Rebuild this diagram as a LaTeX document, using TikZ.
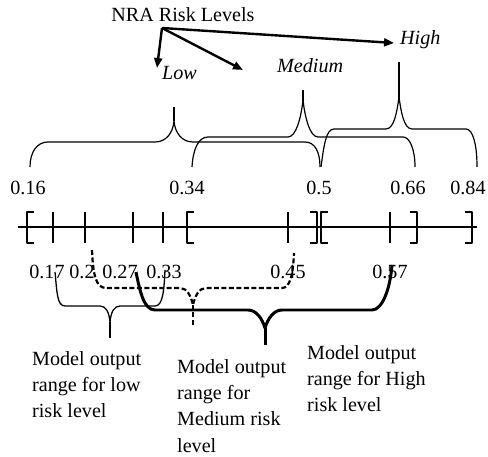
\documentclass[tikz,border=0pt]{standalone}
\usepackage{fontspec}
\setmainfont{Liberation Serif}
\usetikzlibrary{arrows.meta}
\newcommand\myfs{\fontsize{20.2}{26.5}\selectfont}
\tikzset{
  lbl/.style={font=\myfs, inner sep=0pt, anchor=base},
  lvl/.style={font=\myfs\itshape, inner sep=0pt, anchor=base west},
  blk/.style={font=\myfs, inner sep=0pt, anchor=north west, align=left},
  arr/.style={line width=2.4pt, -{Triangle[length=10pt,width=8pt]}},
  topbr/.style={line width=1.2pt},
  tickm/.style={line width=1.2pt},
  lowbr/.style={line width=1.3pt},
  medbr/.style={line width=2.2pt, dash pattern=on 5pt off 2.5pt},
  highbr/.style={line width=3pt},
}
\begin{document}
\begin{tikzpicture}[x=1bp,y=-1bp, line join=round]
\useasboundingbox (0,0) rectangle (488,457);

% title and levels
\node[lbl] (nra) at (183,22) {NRA Risk Levels};
\node[lvl] (low) at (162,80) {Low};
\node[lvl] (medium) at (277,73) {Medium};
\node[lvl] (high) at (400,45) {High};
\coordinate (src) at (162,28);
\coordinate (lowtip) at (157,68);
\coordinate (medtip) at (243,70);
\coordinate (hightip) at (394,43);
\draw[arr] (src) -- (lowtip);
\draw[arr] (src) -- (medtip);
\draw[arr] (src) -- (hightip);

% upper braces (risk levels)
\draw[topbr] (30,167) .. controls (30,152) and (37,142) .. (48,142) -- (155,142)
  .. controls (166,142) and (173,133) .. (174,121)
  .. controls (175,133) and (182,142) .. (193,142) -- (305,142)
  .. controls (315,142) and (320,152) .. (320,167);
\draw[topbr] (174,121) -- (174,107);
\draw[topbr] (192,167) .. controls (193,150) and (198,137) .. (208,137) -- (288,137)
  .. controls (296,137) and (301,118) .. (303,100)
  .. controls (305,118) and (310,137) .. (318,137) -- (403,137)
  .. controls (410,137) and (415,150) .. (415,167);
\draw[line width=2pt] (303,101) -- (303,90);
\draw[topbr] (321,167) .. controls (324,145) and (326,129) .. (334,129) -- (386,129)
  .. controls (394,129) and (397,112) .. (399,97)
  .. controls (401,112) and (404,129) .. (412,129) -- (466,129)
  .. controls (473,129) and (477,145) .. (477,167);
\draw[line width=2.6pt] (399,98) -- (399,62);

% upper numbers
\node[lbl] (n016) at (28,195) {0.16};
\node[lbl] (n034) at (187,195) {0.34};
\node[lbl] (n05) at (319,195) {0.5};
\node[lbl] (n066) at (408,195) {0.66};
\node[lbl] (n084) at (468,195) {0.84};

% axis
\draw[line width=1.6pt] (18,227) -- (477,227);
\foreach \x in {53,85,133,163,288,390} \draw[tickm] (\x,212) -- (\x,243);
\foreach \x in {27,187,321} \draw[tickm] (\x+7,212) -- (\x,212) -- (\x,243) -- (\x+7,243);
\foreach \x in {317,417,472} \draw[tickm] (\x-7,212) -- (\x,212) -- (\x,243) -- (\x-7,243);

% lower numbers
\node[lbl] (n017) at (47,278) {0.17};
\node[lbl] (n02) at (82,278) {0.2};
\node[lbl] (n027) at (120,278) {0.27};
\node[lbl] (n033) at (164,278) {0.33};
\node[lbl] (n045) at (288,278) {0.45};
\node[lbl] (n057) at (390,278) {0.57};

% lower braces (model output)
\draw[lowbr] (55,272) .. controls (57,292) and (57,306) .. (65,306) -- (100,306)
  .. controls (106,306) and (109,312) .. (110,322)
  .. controls (111,312) and (114,306) .. (120,306) -- (155,306)
  .. controls (163,306) and (164,290) .. (165,270);
\draw[lowbr] (110,322) -- (110,338);
\draw[medbr] (92,250) .. controls (93,275) and (96,288) .. (106,288) -- (180,288)
  .. controls (187,288) and (191,296) .. (193,305)
  .. controls (195,296) and (199,288) .. (206,288) -- (282,288)
  .. controls (290,288) and (293,275) .. (294,253);
\draw[medbr] (193,305) -- (193,325);
\draw[highbr] (136,272) .. controls (140,292) and (144,310) .. (155,310) -- (248,310)
  .. controls (256,310) and (262,318) .. (265,328)
  .. controls (268,318) and (274,310) .. (282,310) -- (372,310)
  .. controls (382,310) and (390,290) .. (392,265);
\draw[highbr] (265,328) -- (265,345);

% text blocks
\node[blk] (tlow) at (32,351) {Model output\\range for low\\risk level};
\node[blk] (tmed) at (177,359) {Model output\\range for\\Medium risk\\level};
\node[blk] (thigh) at (307,345) {Model output\\range for High\\risk level};
\end{tikzpicture}
\end{document}
